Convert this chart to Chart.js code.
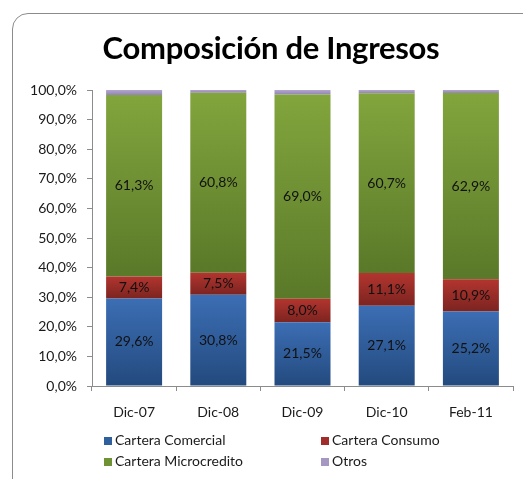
<!DOCTYPE html>
<html>
<head>
<meta charset="utf-8">
<script src="https://cdn.jsdelivr.net/npm/chart.js@4/dist/chart.umd.min.js"></script>
<style>
  html, body { margin: 0; padding: 0; background: #fff; }
  #wrap { position: relative; width: 523px; height: 479px; overflow: hidden; }
  #frame { position: absolute; left: 12px; top: 13px; width: 560px; height: 520px;
           border: 1px solid #8c8c8c; border-radius: 16px; box-sizing: border-box; }
  #chart { position: absolute; left: 0; top: 0; }
  #titulo { position: absolute; left: 0; top: 28px; width: 542px; text-align: center;
            font: bold 31px Lato, sans-serif; color: #000; line-height: 38px; letter-spacing: -0.3px; }
  .leg { position: absolute; font: 14px Lato, sans-serif; color: #1a1a1a; white-space: nowrap; }
  .leg i { display: inline-block; width: 8px; height: 8px; margin-right: 3px; vertical-align: 0px; }
</style>
</head>
<body>
<div id="wrap">
  <div id="frame"></div>
  <canvas id="chart" width="523" height="479"></canvas>
  <div id="titulo">Composición de Ingresos</div>
  <div class="leg" style="left:104px; top:431px;"><i style="background:#2f5f9c"></i>Cartera Comercial</div>
  <div class="leg" style="left:321px; top:431px;"><i style="background:#a12c29"></i>Cartera Consumo</div>
  <div class="leg" style="left:104px; top:452px;"><i style="background:#6f9234"></i>Cartera Microcredito</div>
  <div class="leg" style="left:321px; top:452px;"><i style="background:#a597c2"></i>Otros</div>
</div>
<script>
// Datos del gráfico
const categorias = ['Dic-07', 'Dic-08', 'Dic-09', 'Dic-10', 'Feb-11'];
const comercial = [29.6, 30.8, 21.5, 27.1, 25.2];
const consumo = [7.4, 7.5, 8.0, 11.1, 10.9];
const microcredito = [61.3, 60.8, 69.0, 60.7, 62.9];
const otros = [1.7, 0.9, 1.5, 1.1, 1.0];
const series = [comercial, consumo, microcredito, otros];

// Colores (arriba, abajo) de cada serie
const colores = [
    ['#3c6eb4', '#234a7e'],
    ['#b3352f', '#7c2420'],
    ['#82a53d', '#5a7929'],
    ['#b3a6cc', '#9385b3']
];

function formato(v) {
    return v.toFixed(1).replace('.', ',') + '%';
}

function degradado(idx) {
    return function (context) {
        const chart = context.chart;
        const { ctx, chartArea, scales } = chart;
        if (!chartArea || !scales.y || context.dataIndex === undefined) return colores[idx][0];
        let inicio = 0;
        for (let s = 0; s < idx; s++) inicio += series[s][context.dataIndex];
        const fin = inicio + series[idx][context.dataIndex];
        const y0 = scales.y.getPixelForValue(inicio);
        const y1 = scales.y.getPixelForValue(fin);
        if (!isFinite(y0) || !isFinite(y1) || y0 === y1) return colores[idx][0];
        const g = ctx.createLinearGradient(0, y1, 0, y0);
        g.addColorStop(0, colores[idx][0]);
        g.addColorStop(1, colores[idx][1]);
        return g;
    };
}

// Etiquetas dentro de las barras
const etiquetas = {
    id: 'etiquetas',
    afterDatasetsDraw(chart) {
        const ctx = chart.ctx;
        ctx.save();
        ctx.font = '14px Lato, sans-serif';
        ctx.fillStyle = '#111';
        ctx.textAlign = 'center';
        ctx.textBaseline = 'middle';
        for (let d = 0; d < 3; d++) {
            const meta = chart.getDatasetMeta(d);
            meta.data.forEach(function (bar, i) {
                const y = (bar.y + bar.base) / 2;
                ctx.fillText(formato(series[d][i]), bar.x, y);
            });
        }
        ctx.restore();
    }
};

const nombres = ['Cartera Comercial', 'Cartera Consumo', 'Cartera Microcredito', 'Otros'];

new Chart(document.getElementById('chart'), {
    type: 'bar',
    data: {
        labels: categorias,
        datasets: series.map(function (valores, i) {
            return {
                label: nombres[i],
                data: valores,
                backgroundColor: degradado(i),
                borderWidth: 0,
                barPercentage: 0.665,
                categoryPercentage: 1
            };
        })
    },
    options: {
        responsive: false,
        animation: false,
        layout: { padding: { left: 0, right: 10, top: 90, bottom: 53 } },
        plugins: {
            legend: { display: false },
            tooltip: { enabled: false },
            title: { display: false }
        },
        scales: {
            x: {
                stacked: true,
                grid: { display: true, drawOnChartArea: false, drawTicks: true, tickLength: 5, color: '#8c8c8c', offset: true },
                border: { display: true, color: '#8c8c8c' },
                ticks: { color: '#1a1a1a', font: { family: 'Lato', size: 14 }, padding: 13 },
                afterFit: function (scale) { scale.height = 40; }
            },
            y: {
                stacked: true,
                min: 0,
                max: 100,
                grid: { display: true, drawOnChartArea: false, drawTicks: true, tickLength: 5, color: '#8c8c8c' },
                border: { display: true, color: '#8c8c8c' },
                ticks: {
                    stepSize: 10,
                    color: '#1a1a1a',
                    font: { family: 'Lato', size: 14 },
                    padding: 10,
                    callback: function (value) { return formato(value); }
                },
                afterFit: function (scale) { scale.width = 92; }
            }
        }
    },
    plugins: [etiquetas]
});
</script>
</body>
</html>
